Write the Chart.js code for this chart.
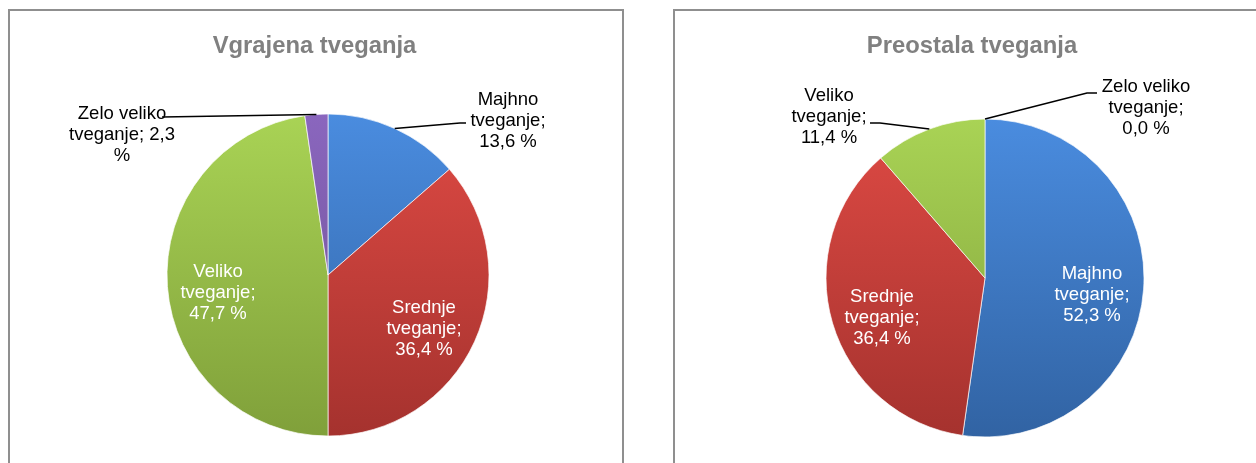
<!DOCTYPE html>
<html><head><meta charset="utf-8">
<script src="https://cdn.jsdelivr.net/npm/chart.js@4.4.1/dist/chart.umd.min.js"></script>
<style>
html,body{margin:0;padding:0;background:#fff;width:1256px;height:463px;overflow:hidden;position:relative}
.box{position:absolute;box-sizing:border-box;border:2px solid #8f8f8f;top:9px;height:520px}
#boxL{left:8px;width:616px}
#boxR{left:673px;width:700px}
canvas{position:absolute;top:0}
#cL{left:0}
#cR{left:640px}
</style></head><body>
<div class="box" id="boxL"></div><div class="box" id="boxR"></div>
<canvas id="cL" width="640" height="463"></canvas>
<canvas id="cR" width="616" height="463"></canvas>
<script>
// ---- data ----
const categories = ['Majhno tveganje', 'Srednje tveganje', 'Veliko tveganje', 'Zelo veliko tveganje'];
const valuesVgrajena = [13.6, 36.4, 47.7, 2.3];
const valuesPreostala = [52.3, 36.4, 11.4, 0.0];
const titleVgrajena = 'Vgrajena tveganja';
const titlePreostala = 'Preostala tveganja';

// ---- styles ----
const FONT = '"Liberation Sans", Arial, Helvetica, sans-serif';
const LABEL_PX = 18.5;
const LINE_H = 21;
const TOP_COLORS = ['#4A8CDF', '#DE4A44', '#A9D355', '#8A66BE'];
const BOT_COLORS = ['#3163A3', '#A5322E', '#80A03A', '#6D5192'];

function fmt(v) { return v.toFixed(1).replace('.', ',') + ' %'; }
function wrap(ctx, text, maxW) {
  const words = text.split(' '); const lines = []; let cur = '';
  for (const w of words) {
    const t = cur ? cur + ' ' + w : w;
    if (cur && ctx.measureText(t).width > maxW) { lines.push(cur); cur = w; } else cur = t;
  }
  if (cur) lines.push(cur);
  return lines;
}
function gradFor(radius) {
  return (c) => {
    const ch = c.chart, a = ch.chartArea, i = c.dataIndex;
    if (!a) return TOP_COLORS[i];
    const cy = (a.top + a.bottom) / 2;
    const g = ch.ctx.createLinearGradient(0, cy - radius, 0, cy + radius);
    g.addColorStop(0, TOP_COLORS[i]); g.addColorStop(1, BOT_COLORS[i]);
    return g;
  };
}

const labelPlugin = {
  id: 'sliceLabels',
  afterDatasetsDraw(chart, args, opts) {
    const ctx = chart.ctx, meta = chart.getDatasetMeta(0), ds = chart.data.datasets[0];
    const cx = meta.data[0].x, cy = meta.data[0].y;
    ctx.save();
    ctx.font = 'bold 23.8px ' + FONT; ctx.fillStyle = '#808080';
    ctx.textAlign = 'center'; ctx.textBaseline = 'alphabetic';
    ctx.fillText(opts.title, cx + opts.titleDx, opts.titleY);
    ctx.font = LABEL_PX + 'px ' + FONT; ctx.textBaseline = 'middle';
    opts.labels.forEach((L, i) => {
      const p = meta.data[i].getProps(['x', 'y', 'startAngle', 'endAngle', 'outerRadius'], true);
      const mid = (p.startAngle + p.endAngle) / 2;
      if (L.anchor) {
        ctx.beginPath();
        ctx.moveTo(cx + L.anchor[0], cy + L.anchor[1]);
        if (L.elbow) ctx.lineTo(cx + L.elbow[0], cy + L.elbow[1]);
        ctx.lineTo(p.x + Math.cos(mid) * p.outerRadius, p.y + Math.sin(mid) * p.outerRadius);
        ctx.strokeStyle = '#000'; ctx.lineWidth = 1.5; ctx.stroke();
      }
      const text = chart.data.labels[i] + '; ' + fmt(ds.data[i]);
      const lines = wrap(ctx, text, L.wrap);
      ctx.fillStyle = L.inside ? '#ffffff' : '#000000';
      lines.forEach((ln, k) => ctx.fillText(ln, cx + L.pos[0], cy + L.pos[1] + k * LINE_H));
    });
    ctx.restore();
  }
};

function makePie(id, values, title, radius, padding, labelLayout, titleDx) {
  return new Chart(document.getElementById(id), {
    type: 'pie',
    data: {
      labels: categories,
      datasets: [{
        data: values,
        backgroundColor: gradFor(radius),
        borderColor: 'rgba(255,255,255,0.85)',
        borderWidth: 0.8
      }]
    },
    options: {
      responsive: false,
      devicePixelRatio: 1,
      animation: false,
      events: [],
      radius: radius,
      layout: { padding: padding },
      plugins: {
        legend: { display: false },
        title: { display: false },
        tooltip: { enabled: false },
        sliceLabels: { title: title, titleDx: titleDx, titleY: 53, labels: labelLayout }
      }
    },
    plugins: [labelPlugin]
  });
}

makePie('cL', valuesVgrajena, titleVgrajena, 161,
  { top: 90, bottom: 3, left: 16, right: 0 },
  [
    { pos: [180, -175], anchor: [138, -152], elbow: [132, -152], wrap: 100 },
    { pos: [96, 33], inside: true, wrap: 100 },
    { pos: [-110, -3], inside: true, wrap: 100 },
    { pos: [-206, -161], anchor: [-166, -158], wrap: 115 }
  ], -13.5);

makePie('cR', valuesPreostala, titlePreostala, 159,
  { top: 96, bottom: 3, left: 74, right: 0 },
  [
    { pos: [107, -4], inside: true, wrap: 100 },
    { pos: [-103, 19], inside: true, wrap: 100 },
    { pos: [-156, -182], anchor: [-115, -155], elbow: [-105, -155], wrap: 100 },
    { pos: [161, -191], anchor: [112, -185], elbow: [102, -185], wrap: 100 }
  ], -13);
</script>
</body></html>
